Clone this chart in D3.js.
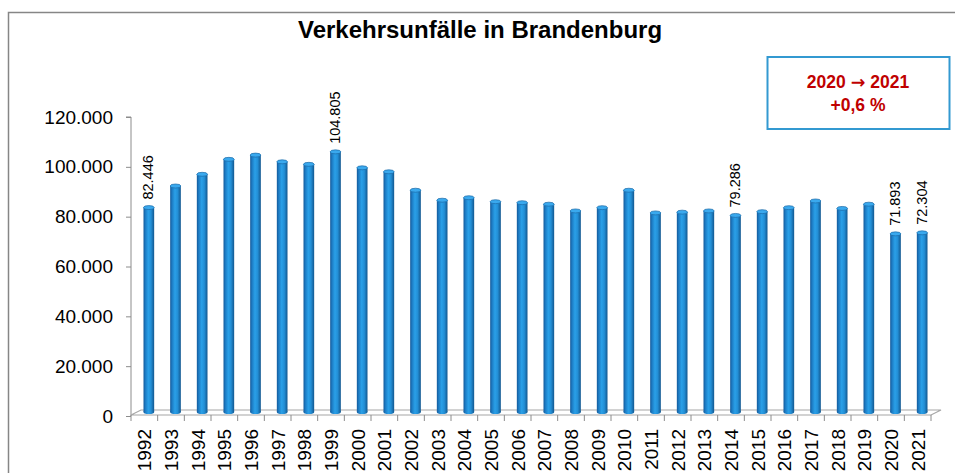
<!DOCTYPE html>
<html>
<head>
<meta charset="utf-8">
<title>Verkehrsunfälle in Brandenburg</title>
<script src="https://cdnjs.cloudflare.com/ajax/libs/d3/7.8.5/d3.min.js"></script>
<style>
  body { margin: 0; background: #fff; }
  svg text { font-family: "Liberation Sans", Arial, sans-serif; }
</style>
</head>
<body>
<svg id="chart" width="955" height="473"></svg>
<script>
// data
var years = ["1992","1993","1994","1995","1996","1997","1998","1999","2000","2001",
             "2002","2003","2004","2005","2006","2007","2008","2009","2010","2011",
             "2012","2013","2014","2015","2016","2017","2018","2019","2020","2021"];
var accidents = [82446, 91100, 95800, 101800, 103500, 100800, 99800, 104805, 98400, 96800,
                 89400, 85400, 86400, 84800, 84400, 83800, 81100, 82400, 89400, 80300,
                 80600, 81100, 79286, 80800, 82400, 85100, 82100, 83800, 71893, 72304];
var labeledYears = ["1992", "1999", "2014", "2020", "2021"];
var yTicks = [0, 20000, 40000, 60000, 80000, 100000, 120000];
var title = "Verkehrsunfälle in Brandenburg";
var noteLines = [["2020 ", "\u2192", " 2021"], ["+0,6 %"]];

var data = years.map(function (y, i) { return { year: y, value: accidents[i] }; });

var de = d3.formatLocale({ decimal: ",", thousands: ".", grouping: [3], currency: ["", " €"] });
var fmt = de.format(",d");

var svg = d3.select("#chart");

// outer frame
svg.append("rect")
    .attr("x", 8.5).attr("y", 12.5)
    .attr("width", 960).attr("height", 480)
    .attr("fill", "#fff")
    .attr("stroke", "#868686").attr("stroke-width", 1.5);

// title
svg.append("text")
    .attr("x", 480).attr("y", 38)
    .attr("text-anchor", "middle")
    .attr("font-size", 24).attr("font-weight", "bold")
    .text(title);

var x = d3.scaleBand().domain(years).range([131, 931]).padding(0);
var y = d3.scaleLinear().domain([0, 120000]).range([416, 117]);

var depthX = 10, depthY = -5;   // pseudo 3D floor depth
var barShiftX = 4.5, barShiftY = -3;
var barW = x.bandwidth() * 0.4;

// gradient for cylinders
var defs = svg.append("defs");
var grad = defs.append("linearGradient").attr("id", "cyl")
    .attr("x1", 0).attr("x2", 1).attr("y1", 0).attr("y2", 0);
[["0%", "#13599a"], ["18%", "#1d7cc4"], ["45%", "#2aa0e8"], ["70%", "#238fd6"], ["100%", "#12578f"]]
    .forEach(function (s) { grad.append("stop").attr("offset", s[0]).attr("stop-color", s[1]); });

// y axis
var yAxis = d3.axisLeft(y).tickValues(yTicks).tickFormat(fmt).tickSize(5).tickPadding(13);
var gy = svg.append("g").attr("transform", "translate(131,0)").call(yAxis);
gy.select(".domain").attr("stroke", "#8c8c8c").attr("d", "M-5," + y(120000) + "H0V" + y(0));
gy.selectAll(".tick line").attr("stroke", "#8c8c8c");
gy.selectAll(".tick text").attr("font-size", 19).attr("fill", "#000")
    .style("font-family", "'Liberation Sans', Arial, sans-serif");

// floor
var y0 = y(0) - 1;
var floor = svg.append("g").attr("fill", "none").attr("stroke", "#a6a6a6").attr("stroke-width", 1.2);
floor.append("path").attr("d",
    "M131," + y0 + "L" + (131 + depthX) + "," + (y0 + depthY) +
    "H" + (931 + depthX) + "L931," + y0 + "H131");

// x ticks
svg.append("g").selectAll("line")
    .data(years.concat(["end"]))
    .join("line")
    .attr("x1", function (d) { return d === "end" ? 931 : x(d); })
    .attr("x2", function (d) { return d === "end" ? 931 : x(d); })
    .attr("y1", y0).attr("y2", y0 + 6)
    .attr("stroke", "#8c8c8c");

// bars
var bars = svg.append("g");
var cx = function (d) { return x(d.year) + x.bandwidth() / 2 + barShiftX; };
bars.selectAll("ellipse.bot")
    .data(data).join("ellipse").attr("class", "bot")
    .attr("cx", cx).attr("cy", y(0) + barShiftY - 1)
    .attr("rx", barW / 2).attr("ry", 2)
    .attr("fill", "url(#cyl)");
bars.selectAll("rect")
    .data(data).join("rect")
    .attr("x", function (d) { return cx(d) - barW / 2; })
    .attr("y", function (d) { return y(d.value) + barShiftY; })
    .attr("width", barW)
    .attr("height", function (d) { return y(0) - y(d.value) - 1; })
    .attr("fill", "url(#cyl)");
bars.selectAll("ellipse.top")
    .data(data).join("ellipse").attr("class", "top")
    .attr("cx", cx)
    .attr("cy", function (d) { return y(d.value) + barShiftY; })
    .attr("rx", barW / 2).attr("ry", 2)
    .attr("fill", "#3aa9ee").attr("stroke", "#1a68a6").attr("stroke-width", 0.7);

// value labels
svg.append("g").selectAll("text")
    .data(data.filter(function (d) { return labeledYears.indexOf(d.year) >= 0; }))
    .join("text")
    .attr("transform", function (d) {
        return "translate(" + (cx(d) - 0.5) + "," + (y(d.value) + barShiftY - 8) + ") rotate(-90)";
    })
    .attr("dominant-baseline", "central")
    .attr("font-size", 14.5)
    .text(function (d) { return fmt(d.value); });

// x labels
svg.append("g").selectAll("text")
    .data(years)
    .join("text")
    .attr("transform", function (d) {
        return "translate(" + (x(d) + x.bandwidth() / 2 + 0.5) + "," + 429 + ") rotate(-90)";
    })
    .attr("text-anchor", "end")
    .attr("dominant-baseline", "central")
    .attr("font-size", 19)
    .text(function (d) { return d; });

// annotation box
svg.append("rect")
    .attr("x", 767.5).attr("y", 57).attr("width", 182).attr("height", 72)
    .attr("fill", "#fff").attr("stroke", "#3399d1").attr("stroke-width", 2);
var note = svg.append("g").selectAll("text")
    .data(noteLines)
    .join("text")
    .attr("x", 858).attr("y", function (d, i) { return 88 + i * 23; })
    .attr("text-anchor", "middle")
    .attr("font-size", 17.5).attr("font-weight", "bold")
    .attr("fill", "#c00000");
note.selectAll("tspan")
    .data(function (d) { return d; })
    .join("tspan")
    .style("font-family", function (d) { return d === "\u2192" ? "'DejaVu Sans', sans-serif" : null; })
    .text(function (d) { return d; });
</script>
</body>
</html>
